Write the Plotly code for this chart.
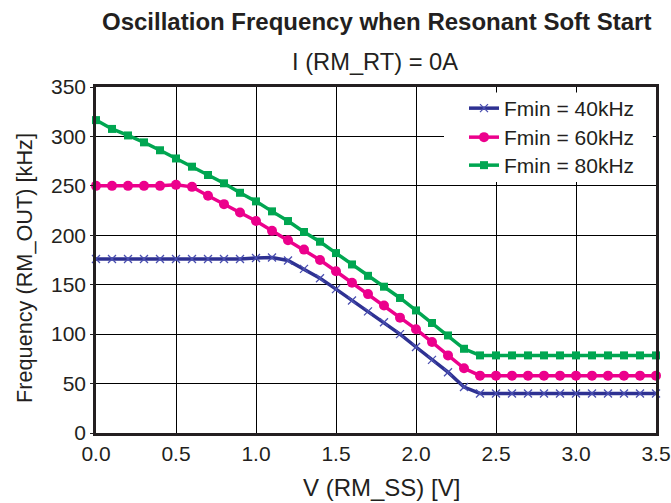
import plotly.graph_objects as go

v_ss = [0.0, 0.1, 0.2, 0.3, 0.4, 0.5, 0.6, 0.7, 0.8, 0.9,
        1.0, 1.1, 1.2, 1.3, 1.4, 1.5, 1.6, 1.7, 1.8, 1.9,
        2.0, 2.1, 2.2, 2.3, 2.4, 2.5, 2.6, 2.7, 2.8, 2.9,
        3.0, 3.1, 3.2, 3.3, 3.4, 3.5]

f_40k = [176, 176, 176, 176, 176, 176, 176, 176, 176, 176,
         177, 177.5, 174.5, 166, 156.5, 145.5, 134, 123, 112, 100,
         87, 74, 61.5, 46.5, 40, 40, 40, 40, 40, 40,
         40, 40, 40, 40, 40, 40]

f_60k = [250, 250, 250, 250, 250, 251, 249, 240, 231.5, 223,
         214.5, 204.5, 195, 185.5, 175, 163.6, 152, 140.5, 129, 116.7,
         105, 92, 78.5, 65.5, 58, 58, 58, 58, 58, 58,
         58, 58, 58, 58, 58, 58]

f_80k = [316.5, 307.6, 301, 294, 286, 277.7, 269.4, 261, 252.6, 243,
         234.3, 224.2, 214.4, 203.3, 193.5, 182, 170.5, 159, 148, 136.6,
         124, 111.3, 98.7, 85.2, 78.5, 78.5, 78.5, 78.5, 78.5, 78.5,
         78.5, 78.5, 78.5, 78.5, 78.5, 78.5]

names = ["Fmin = 40kHz", "Fmin = 60kHz", "Fmin = 80kHz"]
x_ticks = [0.0, 0.5, 1.0, 1.5, 2.0, 2.5, 3.0, 3.5]
y_ticks = [0, 50, 100, 150, 200, 250, 300, 350]

FONT = "Liberation Sans, Arial, Helvetica, sans-serif"
INK = "#231f20"

W, H = 671, 503
L, R, T, B = 96, 15, 87, 70
PW, PH = W - L - R, H - T - B


def px_x(p):
    return (p - L) / PW


def px_y(p):
    return (H - B - p) / PH


fig = go.Figure()
fig.add_trace(go.Scatter(
    x=v_ss, y=f_40k, name=names[0], mode="lines+markers", legend="legend",
    line=dict(color="#2e3192", width=3.5),
    marker=dict(symbol="x-thin", size=8, color="#2e3192",
                line=dict(color="#4a4fb0", width=1.3)),
    cliponaxis=False))
fig.add_trace(go.Scatter(
    x=v_ss, y=f_60k, name=names[1], mode="lines+markers", legend="legend2",
    line=dict(color="#ec008c", width=3.5),
    marker=dict(symbol="circle", size=10, color="#ec008c"),
    cliponaxis=False))
fig.add_trace(go.Scatter(
    x=v_ss, y=f_80k, name=names[2], mode="lines+markers", legend="legend3",
    line=dict(color="#00a651", width=3.5),
    marker=dict(symbol="square", size=8, color="#00a651"),
    cliponaxis=False))


def leg(center_y):
    return dict(x=px_x(464), y=px_y(center_y - 20), xanchor="left", yanchor="top",
                bgcolor="rgba(0,0,0,0)", borderwidth=0,
                font=dict(family=FONT, size=21, color=INK))


fig.update_layout(
    width=W, height=H, autosize=False,
    margin=dict(l=L, r=R, t=T, b=B, autoexpand=False),
    paper_bgcolor="white", plot_bgcolor="white",
    font=dict(family=FONT, size=21, color=INK),
    showlegend=True,
    legend=leg(108), legend2=leg(137), legend3=leg(165),
    xaxis=dict(range=[0, 3.5], tickvals=x_ticks,
               ticktext=[f"{t:.1f}" for t in x_ticks],
               showgrid=True, gridcolor="black", gridwidth=1.3,
               showline=True, linecolor=INK, linewidth=2.5, mirror=True,
               ticks="", zeroline=False, automargin=False,
               tickfont=dict(size=21)),
    yaxis=dict(range=[0, 350], tickvals=y_ticks,
               showgrid=True, gridcolor="black", gridwidth=1.3,
               showline=True, linecolor=INK, linewidth=2.5, mirror=True,
               ticks="outside", ticklen=3, tickwidth=1.3, tickcolor=INK,
               zeroline=False, automargin=False,
               tickfont=dict(size=21)),
    shapes=[dict(type="rect", xref="x", yref="y", layer="between",
                 x0=2.175, x1=3.48, y0=254, y1=344.5,
                 fillcolor="white", line=dict(width=0))],
    annotations=[
        dict(text="<b>Oscillation Frequency when Resonant Soft Start</b>",
             x=px_x(376.5), y=px_y(21.5), xref="paper", yref="paper",
             xanchor="center", yanchor="middle", showarrow=False,
             font=dict(size=24, color=INK)),
        dict(text="I (RM_RT) = 0A",
             x=px_x(375), y=px_y(62), xref="paper", yref="paper",
             xanchor="center", yanchor="middle", showarrow=False,
             font=dict(size=23.7, color=INK)),
        dict(text="V (RM_SS) [V]",
             x=px_x(381), y=px_y(487), xref="paper", yref="paper",
             xanchor="center", yanchor="middle", showarrow=False,
             font=dict(size=24, color=INK)),
        dict(text="Frequency (RM_OUT) [kHz]", textangle=-90,
             x=px_x(24), y=px_y(268), xref="paper", yref="paper",
             xanchor="center", yanchor="middle", showarrow=False,
             font=dict(size=21.7, color=INK)),
    ],
)

fig.write_html("out.html", config={"displayModeBar": False},
               post_script="document.body.style.margin='0';document.body.style.padding='0';")
